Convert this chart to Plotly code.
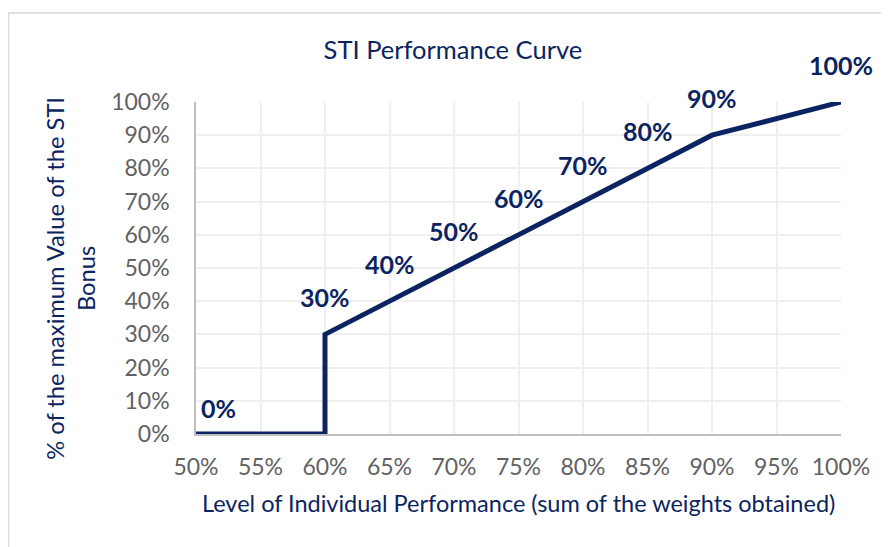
import plotly.graph_objects as go

# Data
perf_level = [50, 60, 60, 65, 70, 75, 80, 85, 90, 100]          # x, % of individual performance
bonus_pct = [0, 0, 30, 40, 50, 60, 70, 80, 90, 100]              # y, % of max STI bonus
label_x = [50, 60, 65, 70, 75, 80, 85, 90, 100]
label_y = [0, 30, 40, 50, 60, 70, 80, 90, 100]
x_ticks = [50, 55, 60, 65, 70, 75, 80, 85, 90, 95, 100]
y_ticks = [0, 10, 20, 30, 40, 50, 60, 70, 80, 90, 100]

NAVY = "#0b2461"
FONT = "Lato"

fig = go.Figure()
fig.add_trace(go.Scatter(
    x=perf_level, y=bonus_pct, mode="lines",
    line=dict(color=NAVY, width=5), cliponaxis=False,
    hoverinfo="skip", showlegend=False))

annotations = []
for xv, yv in zip(label_x, label_y):
    first = xv == label_x[0]
    annotations.append(dict(
        x=xv, y=yv, xref="x", yref="y", text=f"{yv}%", showarrow=False,
        xanchor="left" if first else "center", yanchor="bottom",
        xshift=3 if first else 0, yshift=9 if first else 20,
        font=dict(family=FONT, size=25, color=NAVY, weight="bold")))

annotations.append(dict(
    x=0.5, y=-0.208, xref="paper", yref="paper", showarrow=False,
    text="Level of Individual Performance (sum of the weights obtained)",
    xanchor="center", yanchor="middle",
    font=dict(family=FONT, size=23.5, color=NAVY)))
annotations.append(dict(
    x=-0.194, y=0.470, xref="paper", yref="paper", showarrow=False,
    text="% of the maximum Value of the STI<br>Bonus", textangle=-90,
    xanchor="center", yanchor="middle",
    font=dict(family=FONT, size=23.7, color=NAVY)))

# page has an 8px body margin: figure sits at (8, 8)
fig.update_layout(
    width=881, height=539,
    margin=dict(l=188, r=48, t=94, b=113),
    paper_bgcolor="white", plot_bgcolor="white",
    title=dict(text="STI Performance Curve", x=0.505, y=0.922,
               xanchor="center", yanchor="middle",
               font=dict(family=FONT, size=25.5, color=NAVY)),
    annotations=annotations,
    shapes=[dict(type="rect", xref="paper", yref="paper",
                 x0=-0.2907, x1=1.3, y0=-0.6, y1=1.268,
                 line=dict(color="#d9d9d9", width=1.5), layer="below")],
)
fig.update_xaxes(
    range=[50, 100], tickvals=x_ticks, ticktext=[f"{v}%" for v in x_ticks],
    showgrid=True, gridcolor="#efefef", gridwidth=1.5,
    showline=True, linecolor="#bfbfbf", linewidth=1.5,
    ticks="outside", ticklen=12, tickcolor="rgba(0,0,0,0)",
    tickfont=dict(family=FONT, size=23, color="#626262"), zeroline=False)
fig.update_yaxes(
    range=[0, 100], tickvals=y_ticks, ticktext=[f"{v}%" for v in y_ticks],
    showgrid=True, gridcolor="#efefef", gridwidth=1.5,
    showline=True, linecolor="#bfbfbf", linewidth=1.5,
    ticks="outside", ticklen=20, tickcolor="rgba(0,0,0,0)",
    tickfont=dict(family=FONT, size=23, color="#626262"), zeroline=False)

fig.write_html("out.html")
